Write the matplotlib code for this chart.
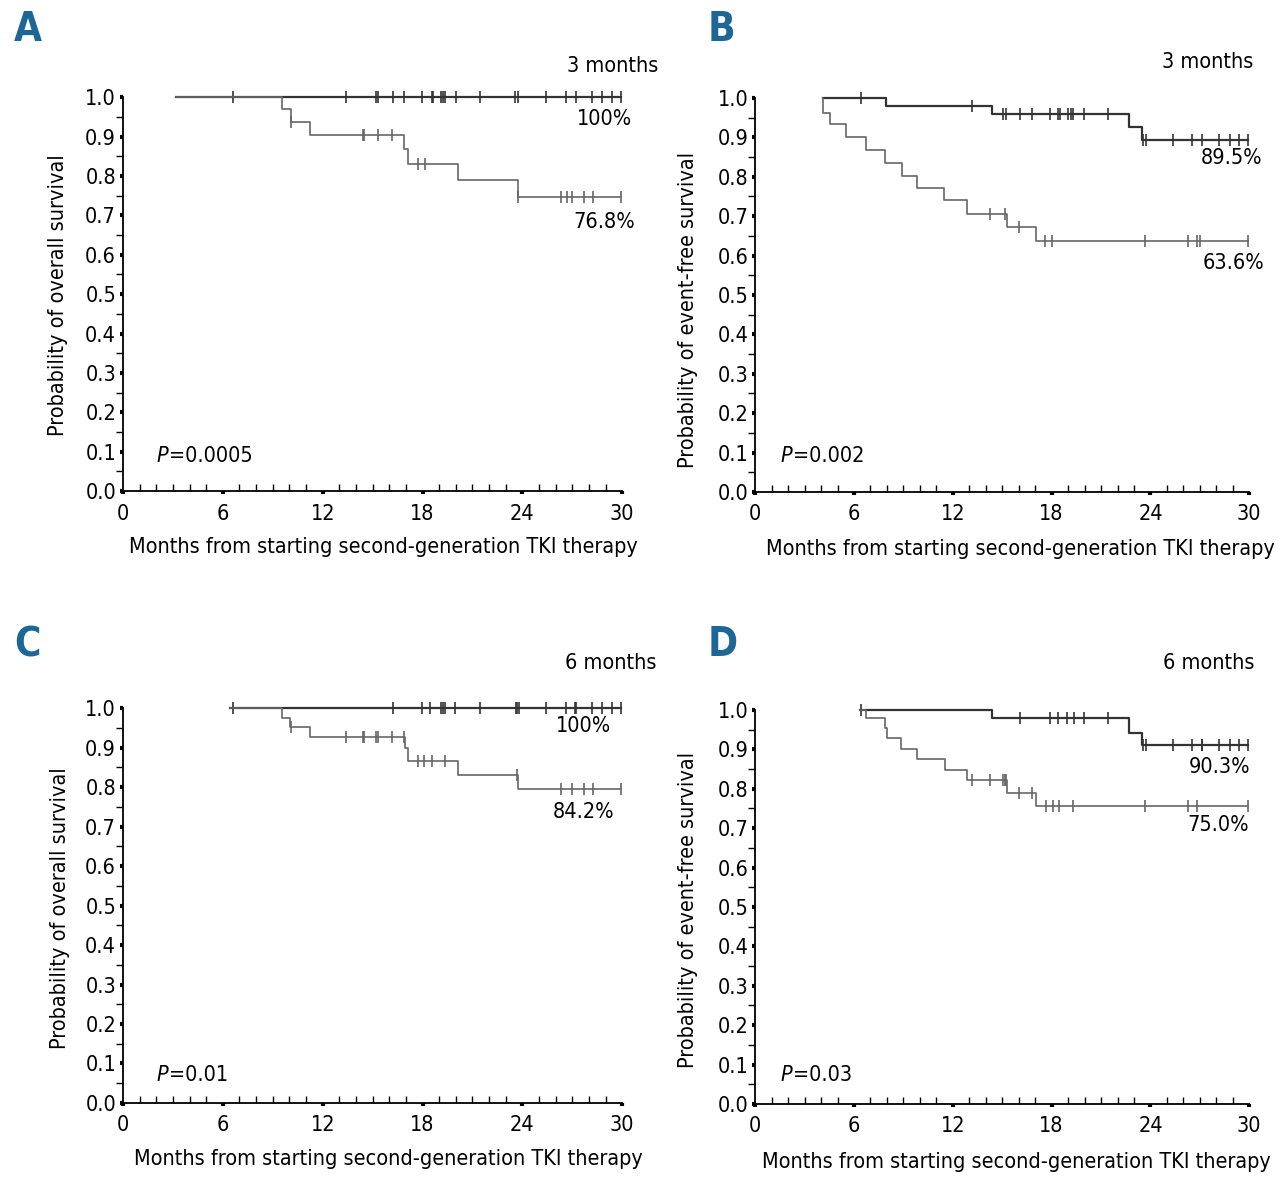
import numpy as np
import matplotlib
matplotlib.use('Agg')
import matplotlib.pyplot as plt
from matplotlib import font_manager as fm
from matplotlib.ticker import MultipleLocator

# the original uses a condensed sans; take one if the system has it
def find_cond(want):
    hits = []
    for f in fm.fontManager.ttflist:
        n = f.fname
        if not ('Condensed' in n or 'Narrow' in n):
            continue
        if any(k in n for k in ('Light', 'Mono', 'Serif', 'ExtraLight')):
            continue
        tags = set(k for k in ('Bold', 'Oblique', 'Italic') if k in n)
        if tags == want:
            hits.append(n)
    return sorted(hits)

reg = find_cond(set())
bold = find_cond({'Bold'})
obl = find_cond({'Oblique'}) or find_cond({'Italic'})

if reg:
    FP = fm.FontProperties(fname=reg[0])
    FS = 15.5
else:
    FP = fm.FontProperties(family='Liberation Sans')
    FS = 16
FP_B = fm.FontProperties(fname=bold[0]) if bold else fm.FontProperties(family='Liberation Sans', weight='bold')
FP_I = fm.FontProperties(fname=obl[0]) if obl else fm.FontProperties(family='Liberation Sans', style='italic')

# panel A: overall survival, 3 months landmark
a_hi_start = 3.2
a_hi_events = []
a_hi_surv = []
a_hi_cens = [6.6, 13.4, 15.2, 15.35, 16.25, 16.9, 17.95, 18.55, 18.65, 19.1, 19.25, 19.35,
             20.0, 21.45, 23.55, 23.75, 25.4, 26.6, 27.2, 28.2, 28.8, 29.4, 29.95]
a_lo_start = 3.2
a_lo_events = [9.55, 10.1, 11.25, 16.9, 17.15, 20.15, 23.75]
a_lo_surv = [0.970, 0.938, 0.905, 0.868, 0.830, 0.789, 0.747]
a_lo_cens = [10.1, 14.4, 14.5, 15.35, 16.15, 17.7, 18.15, 23.75, 26.3, 26.7, 27.0, 27.7, 28.25, 29.95]

# panel B: event-free survival, 3 months landmark
b_hi_start = 4.1
b_hi_events = [7.95, 14.35, 22.7, 23.5]
b_hi_surv = [0.980, 0.959, 0.926, 0.893]
b_hi_cens = [6.45, 13.15, 15.05, 15.2, 16.1, 16.8, 17.9, 18.4, 18.5, 19.0, 19.15, 19.3, 19.95,
             21.45, 23.55, 23.75, 25.35, 26.55, 27.15, 28.15, 28.85, 29.35, 29.95]
b_lo_start = 4.1
b_lo_events = [4.11, 4.55, 5.5, 6.75, 7.9, 8.9, 9.8, 11.45, 12.85, 15.3, 17.05]
b_lo_surv = [0.963, 0.933, 0.901, 0.868, 0.836, 0.802, 0.772, 0.740, 0.706, 0.673, 0.636]
b_lo_cens = [14.25, 15.15, 16.0, 17.6, 18.0, 23.65, 26.3, 26.8, 27.0, 29.95]

# panel C: overall survival, 6 months landmark
c_hi_start = 6.4
c_hi_events = []
c_hi_surv = []
c_hi_cens = [6.6, 16.25, 17.95, 18.45, 19.1, 19.25, 19.35, 19.95, 21.45, 23.6, 23.7, 23.8,
             25.4, 26.6, 27.15, 27.25, 28.2, 28.8, 29.4, 29.95]
c_lo_start = 6.4
c_lo_events = [9.55, 10.05, 11.25, 16.95, 17.15, 20.15, 23.75]
c_lo_surv = [0.974, 0.953, 0.927, 0.900, 0.867, 0.830, 0.795]
c_lo_cens = [10.1, 13.4, 14.4, 14.5, 15.2, 15.35, 16.15, 16.9, 17.7, 18.1, 18.55, 19.35, 23.7,
             26.3, 27.0, 27.7, 28.25, 29.95]

# panel D: event-free survival, 6 months landmark
d_hi_start = 6.35
d_hi_events = [14.35, 22.7, 23.5]
d_hi_surv = [0.979, 0.942, 0.911]
d_hi_cens = [6.4, 16.1, 17.9, 18.4, 18.95, 19.35, 19.95, 21.45, 23.55, 23.7, 25.35, 26.55,
             27.1, 27.15, 28.15, 28.85, 29.35, 29.9]
d_lo_start = 6.35
d_lo_events = [6.7, 7.9, 8.0, 8.85, 9.85, 11.5, 12.85, 15.3, 17.05]
d_lo_surv = [0.979, 0.953, 0.928, 0.900, 0.875, 0.848, 0.821, 0.790, 0.756]
d_lo_cens = [13.15, 14.25, 15.05, 15.15, 15.25, 16.0, 16.8, 17.65, 18.1, 18.45, 19.3, 23.65,
             26.3, 26.8, 29.9]

panel_letters = ['A', 'B', 'C', 'D']
landmarks = ['3 months', '3 months', '6 months', '6 months']
ylabels = ['Probability of overall survival', 'Probability of event-free survival',
           'Probability of overall survival', 'Probability of event-free survival']
pvalues = ['0.0005', '0.002', '0.01', '0.03']
hi_labels = ['100%', '89.5%', '100%', '90.3%']
lo_labels = ['76.8%', '63.6%', '84.2%', '75.0%']
xlabel = 'Months from starting second-generation TKI therapy'

curves = [
    [(a_hi_start, a_hi_events, a_hi_surv, a_hi_cens), (a_lo_start, a_lo_events, a_lo_surv, a_lo_cens)],
    [(b_hi_start, b_hi_events, b_hi_surv, b_hi_cens), (b_lo_start, b_lo_events, b_lo_surv, b_lo_cens)],
    [(c_hi_start, c_hi_events, c_hi_surv, c_hi_cens), (c_lo_start, c_lo_events, c_lo_surv, c_lo_cens)],
    [(d_hi_start, d_hi_events, d_hi_surv, d_hi_cens), (d_lo_start, d_lo_events, d_lo_surv, d_lo_cens)],
]

# axes boxes in figure fraction (left, bottom, width, height)
boxes = [(0.0961, 0.589, 0.390, 0.3297),
         (0.590, 0.5883, 0.386, 0.3297),
         (0.0961, 0.0770, 0.390, 0.3305),
         (0.590, 0.0762, 0.386, 0.3297)]
# text spots in axes fraction
hi_pos = [(1.02, 0.944), (1.026, 0.848), (0.978, 0.954), (1.002, 0.855)]
lo_pos = [(1.026, 0.683), (1.030, 0.581), (0.984, 0.737), (1.0, 0.708)]
lm_pos = [(1.072, 1.079), (1.008, 1.091), (1.068, 1.114), (1.010, 1.119)]
p_pos = [(0.068, 0.089), (0.051, 0.091), (0.068, 0.071), (0.051, 0.074)]
xl_pos = [(0.521, -0.142), (0.536, -0.145), (0.531, -0.142), (0.528, -0.147)]
yl_pos = [(-0.130, 0.497), (-0.136, 0.462), (-0.126, 0.494), (-0.136, 0.492)]
letter_pos = [(0.011, 0.975), (0.553, 0.975), (0.011, 0.46), (0.553, 0.46)]

line_cols = ['#333333', '#666666']
line_w = [1.6, 1.2]


def km_line(ax, start, events, surv, cens, col, lw):
    t = np.concatenate([[start], events, [cens[-1]]])
    s = np.concatenate([[1.0], surv, [surv[-1] if len(surv) else 1.0]])
    ax.step(t, s, where='post', color=col, lw=lw, clip_on=False)
    # censor ticks sit on the curve
    cens = np.array(cens)
    idx = np.searchsorted(np.array(events), cens, side='right')
    full = np.concatenate([[1.0], surv])
    ax.plot(cens, full[idx], ls='none', marker='|', ms=9, mew=1.2, color=col, clip_on=False)


fig = plt.figure(figsize=(12.8, 11.95), dpi=100)

for i in range(4):
    ax = fig.add_axes(boxes[i])
    for j, (st, ev, sv, ce) in enumerate(curves[i]):
        km_line(ax, st, ev, sv, ce, line_cols[j], line_w[j])

    ax.set_xlim(0, 30)
    ax.set_ylim(0, 1.0)
    ax.spines['top'].set_visible(False)
    ax.spines['right'].set_visible(False)
    ax.spines['left'].set_linewidth(1.3)
    ax.spines['bottom'].set_linewidth(1.3)
    ax.set_xticks(np.arange(0, 31, 6))
    ax.set_yticks(np.arange(0, 1.01, 0.1))
    ax.set_yticklabels(['%.1f' % v for v in np.arange(0, 1.01, 0.1)])
    ax.xaxis.set_minor_locator(MultipleLocator(1))
    ax.yaxis.set_minor_locator(MultipleLocator(0.05))
    ax.tick_params(axis='both', which='major', length=2, width=3, color='black')
    ax.tick_params(axis='x', which='major', pad=7)
    ax.tick_params(axis='y', which='major', pad=3)
    ax.tick_params(axis='x', which='minor', direction='in', length=5, width=1)
    ax.tick_params(axis='y', which='minor', direction='out', length=5, width=1)
    for lbl in ax.get_xticklabels() + ax.get_yticklabels():
        lbl.set_fontproperties(FP)
        lbl.set_fontsize(FS)

    ax.set_xlabel(xlabel, fontproperties=FP, fontsize=FS, va='center')
    ax.xaxis.set_label_coords(*xl_pos[i])
    ax.set_ylabel(ylabels[i], fontproperties=FP, fontsize=FS, va='center')
    ax.yaxis.set_label_coords(*yl_pos[i])

    ax.text(lm_pos[i][0], lm_pos[i][1], landmarks[i], transform=ax.transAxes,
            fontproperties=FP, fontsize=FS, ha='right', va='center')
    ax.text(hi_pos[i][0], hi_pos[i][1], hi_labels[i], transform=ax.transAxes,
            fontproperties=FP, fontsize=FS, ha='right', va='center')
    ax.text(lo_pos[i][0], lo_pos[i][1], lo_labels[i], transform=ax.transAxes,
            fontproperties=FP, fontsize=FS, ha='right', va='center')

    # italic P, then the value right after it
    pt = ax.text(p_pos[i][0], p_pos[i][1], 'P', transform=ax.transAxes,
                 fontproperties=FP_I, fontsize=FS, ha='left', va='center')
    ax.annotate('=' + pvalues[i], xy=(1, 0.5), xycoords=pt, xytext=(0.5, 0),
                textcoords='offset points', fontproperties=FP, fontsize=FS,
                ha='left', va='center')

    fig.text(letter_pos[i][0], letter_pos[i][1], panel_letters[i], fontproperties=FP_B,
             fontsize=29, color='#1d6796', ha='left', va='center')

fig.savefig('out.png', dpi=100)
